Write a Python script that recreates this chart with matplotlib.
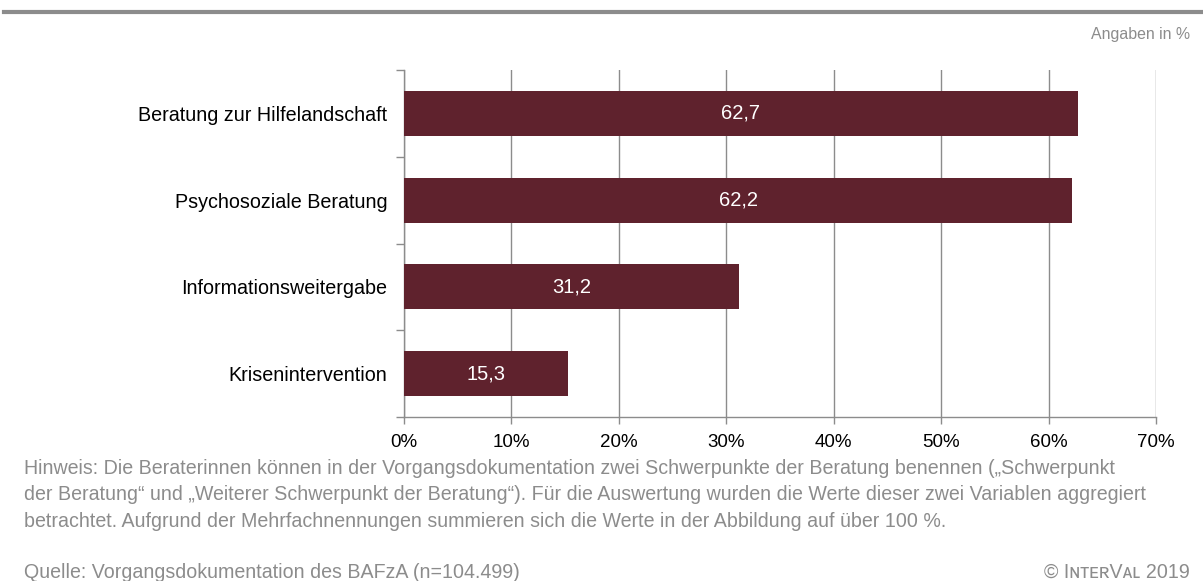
import matplotlib
matplotlib.use("Agg")
import matplotlib.pyplot as plt
from matplotlib.lines import Line2D

categories = ["Beratung zur Hilfelandschaft", "Psychosoziale Beratung",
              "Informationsweitergabe", "Krisenintervention"]
values = [62.7, 62.2, 31.2, 15.3]
xticks = [0, 10, 20, 30, 40, 50, 60, 70]
xticklabels = [f"{v}%" for v in xticks]

plt.rcParams['font.family'] = ['Liberation Sans', 'DejaVu Sans']

W, H = 1203, 581
fig = plt.figure(figsize=(W/100, H/100), dpi=100)
ax = fig.add_axes([404/W, 1-417/H, (1156-404)/W, (417-70)/H])

bar_color = "#5f222d"
grid_color = "#8c8c8c"
n = len(categories)
pos = list(range(n))
ax.barh(pos, values, height=0.52, color=bar_color, zorder=3)
for p, v in zip(pos, values):
    ax.text(v/2, p, f"{v:.1f}".replace(".", ","), ha="center", va="center",
            color="white", fontsize=14.5, zorder=4)

ax.set_xlim(0, 70)
ax.set_ylim(n-0.5, -0.5)
ax.set_xticks(xticks)
ax.set_xticklabels(xticklabels, fontsize=13.5, color="black")
ax.xaxis.grid(True, color=grid_color, linewidth=1, zorder=0)
ax.tick_params(axis="x", length=5, color=grid_color, width=1, pad=7)

ax.set_yticks([p - 0.5 for p in pos] + [n-0.5])
ax.set_yticklabels([])
ax.set_yticks(pos, minor=True)
ax.set_yticklabels(categories, minor=True, fontsize=14.2)
ax.tick_params(axis="y", which="major", length=6, color=grid_color, width=1)
ax.tick_params(axis="y", which="minor", length=0, pad=12)

for s in ["top", "right"]:
    ax.spines[s].set_visible(False)
for s in ["left", "bottom"]:
    ax.spines[s].set_color(grid_color)
    ax.spines[s].set_linewidth(1)

# top grey rule
fig.add_artist(Line2D([4/W, 1.0], [1-12/H, 1-12/H], color="#8c8c8c", linewidth=3,
                      transform=fig.transFigure))

gray = "#8c8c8c"
fig.text(1190/W, 1-34/H, "Angaben in %", ha="right", va="center", fontsize=11.4, color=gray)

note = ("Hinweis: Die Beraterinnen können in der Vorgangsdokumentation zwei Schwerpunkte der Beratung benennen („Schwerpunkt\n"
        "der Beratung“ und „Weiterer Schwerpunkt der Beratung“). Für die Auswertung wurden die Werte dieser zwei Variablen aggregiert\n"
        "betrachtet. Aufgrund der Mehrfachnennungen summieren sich die Werte in der Abbildung auf über 100 %.")
fig.text(24/W, 1-459/H, note, ha="left", va="top", fontsize=14.1, color=gray, linespacing=1.5)
fig.text(24/W, 1-572/H, "Quelle: Vorgangsdokumentation des BAFzA (n=104.499)", ha="left", va="center",
         fontsize=14.1, color=gray)
fig.text(1190/W, 1-572/H, "© IɴᴛᴇʀVᴀʟ 2019", ha="right", va="center", fontsize=14.1, color=gray)

fig.savefig("out.png", dpi=100)
